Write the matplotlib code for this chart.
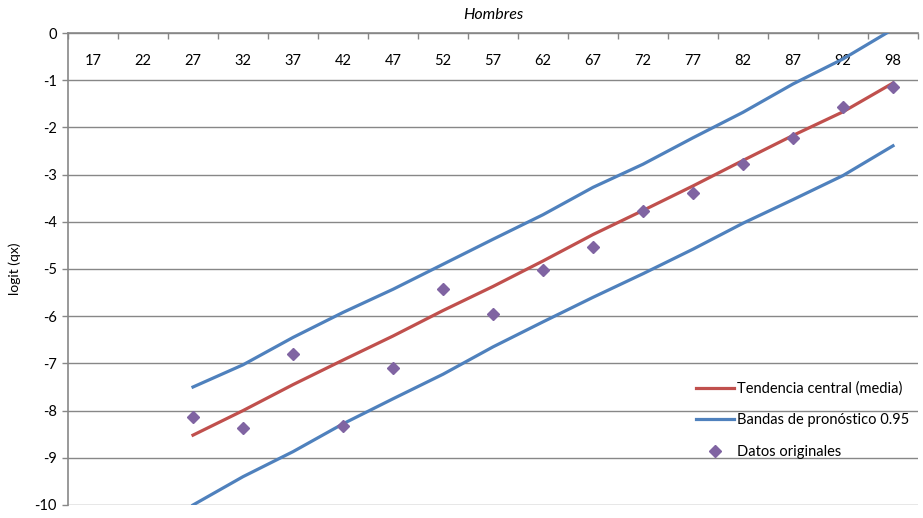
import numpy as np
import matplotlib.pyplot as plt
from matplotlib.ticker import FixedLocator

plt.rcParams['font.family'] = ['Lato', 'DejaVu Sans']
plt.rcParams['axes.unicode_minus'] = False

edades = [17, 22, 27, 32, 37, 42, 47, 52, 57, 62, 67, 72, 77, 82, 87, 92, 98]

# series start at age 27 (index 2)
media = [-8.52, -8.00, -7.45, -6.93, -6.42, -5.88, -5.37, -4.83, -4.27,
         -3.76, -3.24, -2.70, -2.17, -1.67, -1.06]
banda_sup = [-7.50, -7.03, -6.45, -5.92, -5.43, -4.90, -4.37, -3.85, -3.27,
             -2.78, -2.22, -1.68, -1.08, -0.55, 0.08]
banda_inf = [-10.0, -9.40, -8.87, -8.28, -7.75, -7.23, -6.65, -6.12, -5.60,
             -5.10, -4.58, -4.03, -3.53, -3.02, -2.39]
datos = [-8.14, -8.37, -6.80, -8.33, -7.10, -5.42, -5.95, -5.02, -4.53,
         -3.77, -3.39, -2.78, -2.22, -1.57, -1.15]

rojo = '#C0504D'
azul = '#4F81BD'
morado = '#8064A2'
gris = '#878787'

fig = plt.figure(figsize=(9.23, 5.18), dpi=100)
ax = fig.add_axes([68 / 923, 13 / 518, 850 / 923, 472 / 518])

x = np.arange(2, len(edades))
ax.plot(x, media, color=rojo, lw=2.3, label='Tendencia central (media)', zorder=3)
ax.plot(x, banda_sup, color=azul, lw=2.3, label='Bandas de pronóstico 0.95', zorder=3)
ax.plot(x, banda_inf, color=azul, lw=2.3, zorder=3)
ax.plot(x, datos, ls='none', marker='D', ms=5.8, color=morado, label='Datos originales', zorder=4)

ax.set_xlim(-0.5, len(edades) - 0.5)
ax.set_ylim(-10, 0)
ax.set_yticks(np.arange(-10, 1, 1))
ax.yaxis.grid(True, color=gris, lw=1)
ax.set_axisbelow(True)

# category axis sits at y=0 with labels under it
ax.xaxis.tick_top()
ax.set_xticks(np.arange(len(edades)))
ax.set_xticklabels([str(e) for e in edades])
ax.xaxis.set_minor_locator(FixedLocator(np.arange(-0.5, len(edades), 1)))
ax.tick_params(axis='x', which='major', length=0, pad=-25, labelsize=10.5)
ax.tick_params(axis='x', which='minor', length=4, direction='in', color=gris, width=1)
ax.tick_params(axis='y', length=4, color=gris, width=1, labelsize=10.5, pad=4)

for s in ['right', 'bottom']:
    ax.spines[s].set_visible(False)
ax.spines['left'].set_color(gris)
ax.spines['top'].set_color(gris)
ax.spines['left'].set_linewidth(1.2)
ax.spines['top'].set_linewidth(1.2)

ax.set_ylabel('logit (qx)', fontsize=10, labelpad=10)
ax.set_title('Hombres', fontstyle='italic', fontsize=11.5, pad=10)

ax.legend(loc='lower right', bbox_to_anchor=(1.005, 0.07), frameon=False,
          fontsize=10.5, handlelength=2.6, handletextpad=0.2, labelspacing=1.2)

fig.savefig('out.png', dpi=100)
